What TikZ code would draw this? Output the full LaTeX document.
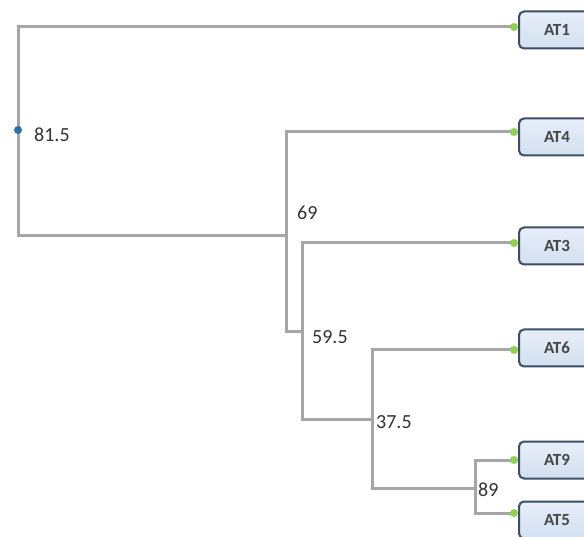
\documentclass[tikz,border=0pt]{standalone}
\usepackage{fontspec}
\setmainfont{Carlito}
\begin{document}
\begin{tikzpicture}[x=1pt,y=-1pt,
  branch/.style={draw=black!35, line width=3pt, line cap=rect, line join=miter},
  leafbox/.style={draw=leafborder, line width=2pt, rounded corners=5pt,
    top color=leaftop, bottom color=leafbot, minimum width=76pt, minimum height=37pt,
    inner sep=0pt, font=\fontsize{17}{17}\selectfont\bfseries, text=black!72},
  gdot/.style={circle, fill=dotgreen, inner sep=0pt, minimum size=8pt},
  bdot/.style={circle, fill=dotblue, inner sep=0pt, minimum size=8pt},
  vlabel/.style={anchor=west, inner sep=0pt, font=\fontsize{20}{20}\selectfont, text=black!80}]
\definecolor{leafborder}{HTML}{3A4E66}
\definecolor{leaftop}{HTML}{E6EEF8}
\definecolor{leafbot}{HTML}{D3E0F0}
\definecolor{dotgreen}{HTML}{92D050}
\definecolor{dotblue}{HTML}{2672AE}
\useasboundingbox (0,0) rectangle (584,537);
\clip (0,0) rectangle (584,537);
% junction coordinates
\coordinate (r1) at (18,27);
\coordinate (r2) at (18,236);
\coordinate (a1) at (286,132);
\coordinate (a2) at (286,332);
\coordinate (b1) at (302,243);
\coordinate (b2) at (302,419);
\coordinate (c1) at (372,350);
\coordinate (c2) at (372,488);
\coordinate (e1) at (475,460);
\coordinate (e2) at (475,513);
% leaf attachment points
\coordinate (d1) at (514,27);
\coordinate (d4) at (514,132);
\coordinate (d3) at (514,243);
\coordinate (d6) at (514,350);
\coordinate (d9) at (514,460);
\coordinate (d5) at (514,513);
% branches
\draw[branch] (d1) -- (r1) -- (r2) -- (a1 |- r2);
\draw[branch] (d4) -- (a1) -- (a2) -- (b1 |- a2);
\draw[branch] (d3) -- (b1) -- (b2) -- (c1 |- b2);
\draw[branch] (d6) -- (c1) -- (c2) -- (e1 |- c2);
\draw[branch] (d9) -- (e1) -- (e2) -- (d5);
% leaves
\node[leafbox] (AT1) at (557,30) {AT1};
\node[leafbox] (AT4) at (557,137) {AT4};
\node[leafbox] (AT3) at (557,246) {AT3};
\node[leafbox] (AT6) at (557,348) {AT6};
\node[leafbox] (AT9) at (557,460) {AT9};
\node[leafbox] (AT5) at (557,520) {AT5};
% dots
\node[gdot] (g1) at (d1) {};
\node[gdot] (g4) at (d4) {};
\node[gdot] (g3) at (d3) {};
\node[gdot] (g6) at (d6) {};
\node[gdot] (g9) at (d9) {};
\node[gdot] (g5) at (d5) {};
\node[bdot] (root) at (18,130) {};
% labels
\node[vlabel] (l815) at (34,135) {81.5};
\node[vlabel] (l69) at (297,213) {69};
\node[vlabel] (l595) at (312,337) {59.5};
\node[vlabel] (l375) at (376,422) {37.5};
\node[vlabel] (l89) at (478,490) {89};
\end{tikzpicture}
\end{document}
